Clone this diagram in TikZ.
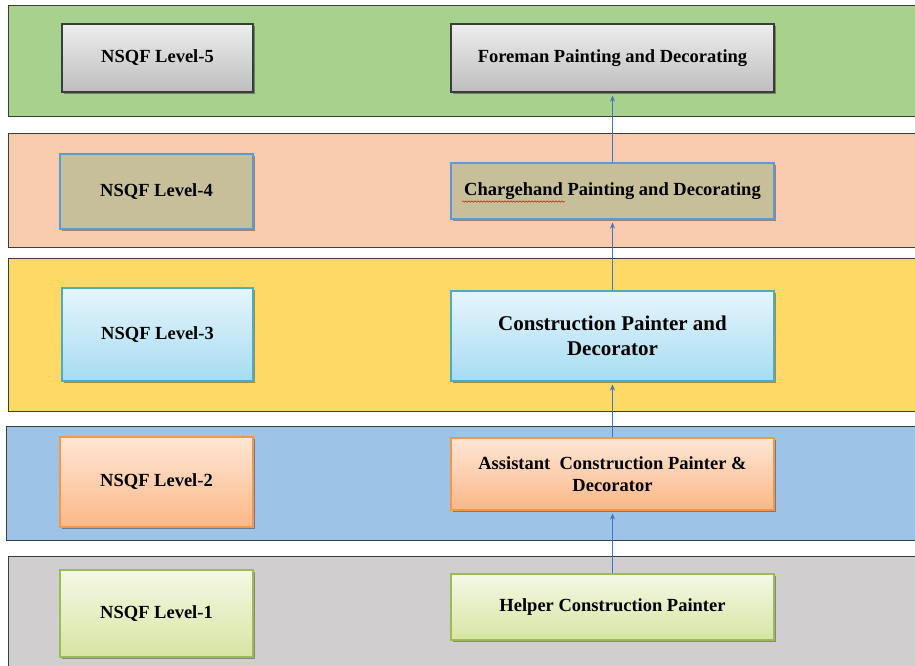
\documentclass[tikz,border=0pt]{standalone}
\usepackage{fontspec}
\setmainfont{Liberation Serif}
\newfontfamily\tnr{Liberation Serif}
\usetikzlibrary{arrows.meta,shadows,decorations.pathmorphing}
\definecolor{bandline}{HTML}{3C3C3C}
\definecolor{bgreen}{HTML}{A9D18E}
\definecolor{bsalmon}{HTML}{F8CBAD}
\definecolor{byellow}{HTML}{FFD966}
\definecolor{bblue}{HTML}{9DC3E6}
\definecolor{bgrey}{HTML}{D0CECE}
\definecolor{arrowblue}{HTML}{4472C4}
\definecolor{khaki}{HTML}{C6BF9A}
\definecolor{kline}{HTML}{5B9BD5}
\definecolor{cyanline}{HTML}{4BACC6}
\definecolor{orangeline}{HTML}{F79646}
\definecolor{greenline}{HTML}{9BBB59}
\definecolor{greytop}{HTML}{EDEDED}
\definecolor{greybot}{HTML}{BEBEBE}
\definecolor{cyantop}{HTML}{E6F5FC}
\definecolor{cyanbot}{HTML}{A6DCF2}
\definecolor{orangetop}{HTML}{FFE6D5}
\definecolor{orangebot}{HTML}{FBB887}
\definecolor{limetop}{HTML}{F4F8E5}
\definecolor{limebot}{HTML}{D7E5A3}
\tikzset{
  band/.style={draw=bandline, line width=1.3pt, anchor=north west, inner sep=0pt},
  lbox/.style={line width=1.2pt, inner sep=2pt, align=center,
    font=\tnr\fontsize{18.5}{22}\selectfont\bfseries,
    drop shadow={shadow xshift=1.5pt, shadow yshift=-1.8pt, opacity=0.35, fill=black}},
  greybox/.style={lbox, draw=bandline, top color=greytop, bottom color=greybot},
  khakibox/.style={lbox, draw=kline, fill=khaki},
  cyanbox/.style={lbox, draw=cyanline, top color=cyantop, bottom color=cyanbot},
  orangebox/.style={lbox, draw=orangeline, top color=orangetop, bottom color=orangebot},
  limebox/.style={lbox, draw=greenline, top color=limetop, bottom color=limebot},
  uparrow/.style={draw=arrowblue, line width=0.9pt, -{Stealth[length=6pt,width=5pt]}, shorten >=3pt}
}
\begin{document}
\begin{tikzpicture}[x=1pt,y=-1pt]
\clip (0,0) rectangle (915,665);
\fill[white] (0,0) rectangle (915,665);
% bands
\node[band, fill=bgreen, minimum width=915pt, minimum height=111pt] (band5) at (8,5) {};
\node[band, fill=bsalmon, minimum width=915pt, minimum height=114pt] (band4) at (8,133) {};
\node[band, fill=byellow, minimum width=915pt, minimum height=153pt] (band3) at (8,258) {};
\node[band, fill=bblue, minimum width=915pt, minimum height=114pt] (band2) at (6,426) {};
\node[band, fill=bgrey, minimum width=915pt, minimum height=120pt] (band1) at (8,556) {};
% level boxes
\node[greybox, minimum width=191pt, minimum height=68pt] (l5) at (157.5,58) {NSQF Level-5};
\node[khakibox, minimum width=193pt, minimum height=75pt] (l4) at (156.5,191.5) {NSQF Level-4};
\node[cyanbox, minimum width=191pt, minimum height=93pt] (l3) at (157.5,334.5) {NSQF Level-3};
\node[orangebox, minimum width=193pt, minimum height=90pt] (l2) at (156.5,482) {NSQF Level-2};
\node[limebox, minimum width=193pt, minimum height=87pt] (l1) at (156.5,613.5) {NSQF Level-1};
% job boxes
\node[greybox, minimum width=323pt, minimum height=68pt] (fore) at (612.5,58) {Foreman Painting and Decorating};
\node[khakibox, minimum width=323pt, minimum height=56pt] (charge) at (612.5,191) {Chargehand Painting and Decorating};
\node[cyanbox, minimum width=323pt, minimum height=90pt, font=\tnr\fontsize{21}{25}\selectfont\bfseries] (cpd) at (612.5,336) {Construction Painter and\\Decorator};
\node[orangebox, minimum width=323pt, minimum height=72pt] (acpd) at (612.5,474) {Assistant\ \ Construction Painter \&\\Decorator};
\node[limebox, minimum width=323pt, minimum height=66pt] (help) at (612.5,607) {Helper Construction Painter};
% spell-check underline
\draw[red, line width=0.5pt, decorate, decoration={snake, segment length=3pt, amplitude=0.7pt}] (462,201.5) -- (565,201.5);
% arrows
\draw[uparrow] (help.north) -- (acpd.south);
\draw[uparrow] (acpd.north) -- (cpd.south);
\draw[uparrow] (cpd.north) -- (charge.south);
\draw[uparrow] (charge.north) -- (fore.south);
\end{tikzpicture}
\end{document}
